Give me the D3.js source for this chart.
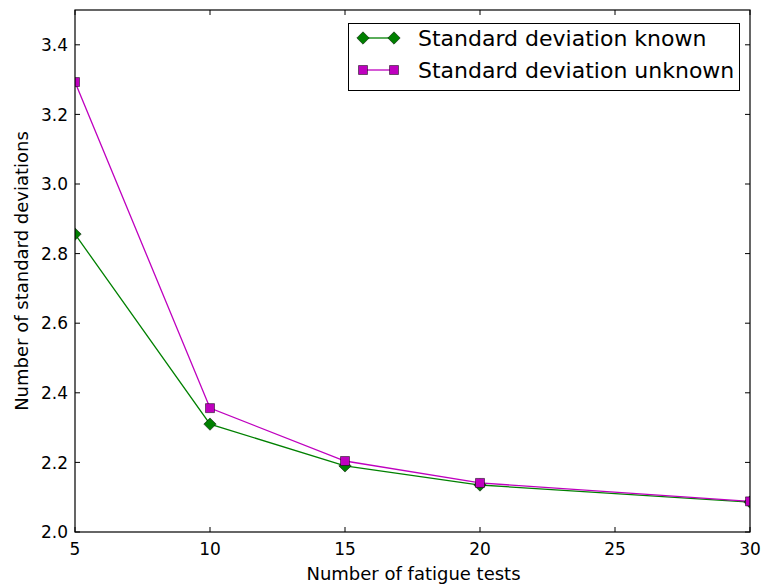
<!DOCTYPE html>
<html><head><meta charset="utf-8">
<script src="https://cdn.jsdelivr.net/npm/d3@7/dist/d3.min.js"></script>
<style>body{margin:0;background:#fff}svg{display:block}text{font-family:"DejaVu Sans",sans-serif;fill:#000}</style>
</head><body><svg id="c" width="762" height="585"></svg>
<script>
const tests = [5, 10, 15, 20, 30];
const knownVals = [2.856, 2.310, 2.190, 2.135, 2.086];
const unknownVals = [3.293, 2.356, 2.204, 2.141, 2.088];
const xTicks = [5, 10, 15, 20, 25, 30];
const yTicks = [2.0, 2.2, 2.4, 2.6, 2.8, 3.0, 3.2, 3.4];
const seriesNames = ["Standard deviation known", "Standard deviation unknown"];

const svg = d3.select("#c");
const L = 75, R = 750, T = 10, B = 532;
const x = d3.scaleLinear().domain([5, 30]).range([L, R]);
const y = d3.scaleLinear().domain([2.0, 3.5]).range([B, T]);

const g = svg.append("g");
const tl = 5;
xTicks.forEach(v => {
  g.append("line").attr("x1", x(v)).attr("x2", x(v)).attr("y1", B).attr("y2", B - tl).attr("stroke", "#000");
  g.append("line").attr("x1", x(v)).attr("x2", x(v)).attr("y1", T).attr("y2", T + tl).attr("stroke", "#000");
  g.append("text").attr("x", x(v)).attr("y", B + 23).attr("text-anchor", "middle").attr("font-size", 17).text(d3.format("d")(v));
});
yTicks.forEach(v => {
  g.append("line").attr("y1", y(v)).attr("y2", y(v)).attr("x1", L).attr("x2", L + tl).attr("stroke", "#000");
  g.append("line").attr("y1", y(v)).attr("y2", y(v)).attr("x1", R).attr("x2", R - tl).attr("stroke", "#000");
  g.append("text").attr("x", L - 7).attr("y", y(v) + 6.2).attr("text-anchor", "end").attr("font-size", 17).text(d3.format(".1f")(v));
});

const diamond = r => `M0,${-r}L${r},0L0,${r}L${-r},0Z`;
const square = h => `M${-h},${-h}H${h}V${h}H${-h}Z`;
const series = [
  {name: seriesNames[0], vals: knownVals, color: "#008000", shape: diamond(6.2)},
  {name: seriesNames[1], vals: unknownVals, color: "#bf00bf", shape: square(4.5)}
];
const line = d3.line().x(d => x(d[0])).y(d => y(d[1]));
const plot = svg.append("g");
plot.append("clipPath").attr("id", "clip").append("rect").attr("x", L).attr("y", T).attr("width", R - L).attr("height", B - T);
series.forEach(s => {
  const pts = tests.map((t, i) => [t, s.vals[i]]);
  plot.append("path").attr("d", line(pts)).attr("fill", "none").attr("stroke", s.color).attr("stroke-width", 1.3);
});
series.forEach(s => {
  const pts = tests.map((t, i) => [t, s.vals[i]]);
  plot.selectAll(null).data(pts).enter().append("path")
    .attr("d", s.shape)
    .attr("transform", d => `translate(${x(d[0])},${y(d[1])})`)
    .attr("fill", s.color).attr("stroke", "#000").attr("stroke-width", 0.5);
});
plot.attr("clip-path", "url(#clip)");

svg.append("rect").attr("x", L).attr("y", T).attr("width", R - L).attr("height", B - T).attr("fill", "none").attr("stroke", "#000").attr("stroke-width", 1.2);

svg.append("text").attr("x", (L + R) / 2 + 1).attr("y", 580).attr("text-anchor", "middle").attr("font-size", 18).text("Number of fatigue tests");
svg.append("text").attr("transform", `translate(28,${(T + B) / 2}) rotate(-90)`).attr("text-anchor", "middle").attr("font-size", 18).text("Number of standard deviations");

const lg = svg.append("g");
lg.append("rect").attr("x", 348.5).attr("y", 23.5).attr("width", 391).attr("height", 67).attr("fill", "#fff").attr("stroke", "#000").attr("stroke-width", 1);
series.forEach((s, i) => {
  const cy = 38 + i * 32;
  lg.append("line").attr("x1", 363).attr("x2", 394).attr("y1", cy).attr("y2", cy).attr("stroke", s.color).attr("stroke-width", 1.3);
  [363, 394].forEach(cx => lg.append("path").attr("d", s.shape).attr("transform", `translate(${cx},${cy})`).attr("fill", s.color).attr("stroke", "#000").attr("stroke-width", 0.5));
  lg.append("text").attr("x", 418).attr("y", cy + 8).attr("font-size", 22).text(s.name);
});
</script></body></html>
